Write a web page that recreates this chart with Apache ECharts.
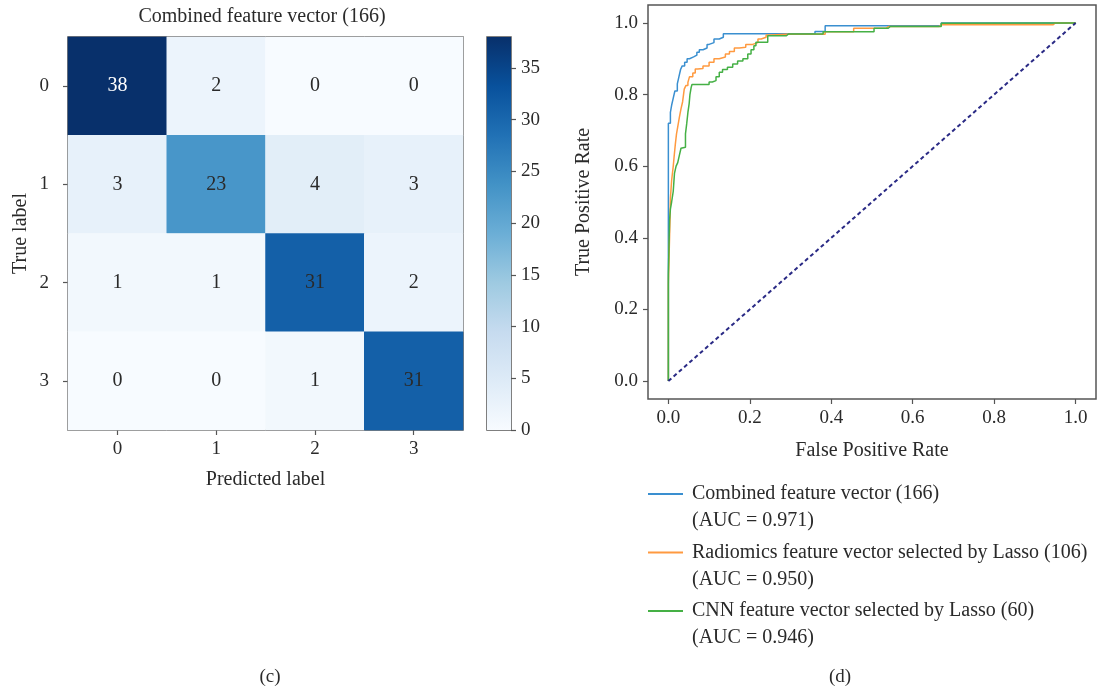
<!DOCTYPE html>
<html>
<head>
<meta charset="utf-8">
<script src="https://cdn.jsdelivr.net/npm/echarts@6/dist/echarts.min.js"></script>
<style>
html,body{margin:0;padding:0;background:#fff;}
#chart{width:1105px;height:686px;}
</style>
</head>
<body>
<div id="chart"></div>
<script>
// ---------- DATA ----------
const classLabels = ['0', '1', '2', '3'];
const confusion = [
  [38, 2, 0, 0],
  [3, 23, 4, 3],
  [1, 1, 31, 2],
  [0, 0, 1, 31]
];
const colorMax = 38;
const colorbarTicks = [0, 5, 10, 15, 20, 25, 30, 35];
const rocTicks = [0, 0.2, 0.4, 0.6, 0.8, 1.0];

const seriesNames = [
  'Combined feature vector (166)',
  'Radiomics feature vector selected by Lasso (106)',
  'CNN feature vector selected by Lasso (60)'
];
const aucValues = [0.971, 0.950, 0.946];

const rocCombined = [[0,0],[0,0.69],[0.005,0.72],[0.008,0.75],[0.012,0.77],[0.016,0.79],[0.022,0.81],[0.026,0.83],[0.03,0.85],[0.034,0.87],[0.04,0.88],[0.046,0.89],[0.052,0.9],[0.062,0.905],[0.07,0.91],[0.076,0.918],[0.085,0.925],[0.095,0.93],[0.1,0.94],[0.112,0.945],[0.125,0.955],[0.135,0.96],[0.15,0.97],[0.36,0.97],[0.37,0.976],[0.385,0.976],[0.39,0.992],[0.67,0.992],[0.675,1.0],[1,1]];
const rocRadiomics = [[0,0],[0,0.14],[0.004,0.27],[0.005,0.45],[0.008,0.51],[0.012,0.56],[0.014,0.6],[0.017,0.625],[0.02,0.66],[0.023,0.69],[0.027,0.71],[0.031,0.736],[0.035,0.76],[0.039,0.78],[0.043,0.815],[0.048,0.825],[0.052,0.834],[0.06,0.85],[0.066,0.86],[0.072,0.871],[0.085,0.873],[0.1,0.88],[0.112,0.89],[0.125,0.9],[0.14,0.905],[0.15,0.913],[0.162,0.92],[0.174,0.93],[0.19,0.932],[0.207,0.94],[0.22,0.945],[0.228,0.955],[0.24,0.96],[0.252,0.966],[0.29,0.968],[0.385,0.968],[0.39,0.975],[0.455,0.975],[0.46,0.985],[0.535,0.985],[0.54,0.99],[0.665,0.99],[0.67,0.995],[0.945,0.995],[0.95,1.0],[1,1]];
const rocCnn = [[0,0],[0,0.08],[0.003,0.3],[0.005,0.45],[0.008,0.48],[0.012,0.5],[0.015,0.53],[0.019,0.58],[0.023,0.6],[0.027,0.61],[0.031,0.63],[0.034,0.65],[0.042,0.653],[0.045,0.69],[0.048,0.718],[0.051,0.75],[0.053,0.774],[0.056,0.8],[0.058,0.82],[0.06,0.828],[0.1,0.828],[0.108,0.835],[0.117,0.839],[0.125,0.85],[0.133,0.862],[0.145,0.87],[0.158,0.876],[0.17,0.885],[0.183,0.894],[0.195,0.9],[0.203,0.913],[0.21,0.925],[0.215,0.936],[0.244,0.946],[0.256,0.964],[0.29,0.964],[0.295,0.969],[0.38,0.969],[0.385,0.975],[0.505,0.975],[0.51,0.985],[0.54,0.985],[0.545,0.99],[0.67,0.99],[0.675,0.999],[1,1]];
const chanceLine = [[0,0],[1,1]];

// ---------- STYLE ----------
const FONT = '"Liberation Serif", "DejaVu Serif", serif';
const TXT = '#2a2a2a';
const FRAME = '#555';
const blues = ['#f7fbff','#deebf7','#c6dbef','#9ecae1','#6baed6','#4292c6','#2171b5','#08519c','#08306b'];
const rocColors = ['#3a8fd0', '#ff9a40', '#45b045'];

const heatData = [];
confusion.forEach((row, r) => row.forEach((v, c) => heatData.push({
  value: [c, r, v],
  label: { color: v > 0.9 * colorMax ? '#ffffff' : TXT }
})));

const chart = echarts.init(document.getElementById('chart'));
const axisLabelStyle = { color: TXT, fontFamily: FONT, fontSize: 19 };
const nameStyle = { color: TXT, fontFamily: FONT, fontSize: 20 };
const tickStyle = { show: true, length: 5, inside: false, lineStyle: { color: FRAME, width: 1.2 } };

chart.setOption({
  backgroundColor: '#fff',
  animation: false,
  title: [
    { text: 'Combined feature vector (166)', left: 257, top: 2, textAlign: 'center',
      textStyle: { color: TXT, fontFamily: FONT, fontSize: 20, fontWeight: 'normal' } },
    { text: '(c)', left: 265, top: 663, textAlign: 'center',
      textStyle: { color: TXT, fontFamily: FONT, fontSize: 19, fontWeight: 'normal' } },
    { text: '(d)', left: 835, top: 663, textAlign: 'center',
      textStyle: { color: TXT, fontFamily: FONT, fontSize: 19, fontWeight: 'normal' } }
  ],
  grid: [
    { left: 68, top: 37, width: 395, height: 393, show: true, borderColor: FRAME, borderWidth: 1.5, containLabel: false },
    { left: 487, top: 37, width: 24, height: 393, show: true, borderColor: FRAME, borderWidth: 1.5, containLabel: false },
    { left: 648, top: 5, width: 448, height: 394, show: true, borderColor: FRAME, borderWidth: 1.5, containLabel: false }
  ],
  visualMap: {
    show: false, min: 0, max: colorMax, seriesIndex: 0, dimension: 2,
    inRange: { color: blues }
  },
  legend: {
    data: seriesNames,
    orient: 'vertical', left: 648, top: 483, padding: 0,
    icon: 'rect', itemWidth: 35, itemHeight: 2, itemGap: 36.5,
    textStyle: { color: TXT, fontFamily: FONT, fontSize: 20, lineHeight: 22, padding: [0, 0, 0, 4] }
  },
  graphic: aucValues.map((a, i) => ({
    type: 'text', left: 692, top: 511 + i * 58.5,
    style: { text: '(AUC = ' + a.toFixed(3) + ')', fill: TXT, font: '20px ' + FONT }
  })),
  xAxis: [
    { gridIndex: 0, type: 'category', data: classLabels, position: 'bottom',
      axisLine: { show: false, onZero: false }, axisTick: Object.assign({ alignWithLabel: true }, tickStyle),
      axisLabel: Object.assign({ margin: 10 }, axisLabelStyle), splitLine: { show: false },
      name: 'Predicted label', nameLocation: 'middle', nameGap: 40, nameTextStyle: nameStyle },
    { gridIndex: 1, type: 'category', data: ['c'], show: false },
    { gridIndex: 2, type: 'value', min: -0.05, max: 1.05, position: 'bottom',
      axisLine: { show: false, onZero: false }, splitLine: { show: false },
      axisTick: Object.assign({ customValues: rocTicks }, tickStyle),
      axisLabel: Object.assign({ margin: 10, customValues: rocTicks, formatter: v => v.toFixed(1) }, axisLabelStyle),
      name: 'False Positive Rate', nameLocation: 'middle', nameGap: 42, nameTextStyle: nameStyle }
  ],
  yAxis: [
    { gridIndex: 0, type: 'category', data: classLabels, inverse: true,
      axisLine: { show: false, onZero: false }, axisTick: Object.assign({ alignWithLabel: true }, tickStyle),
      axisLabel: Object.assign({ margin: 19 }, axisLabelStyle), splitLine: { show: false },
      name: 'True label', nameLocation: 'middle', nameGap: 37, nameTextStyle: nameStyle },
    { gridIndex: 1, type: 'value', min: 0, max: colorMax, position: 'right',
      axisLine: { show: false, onZero: false }, splitLine: { show: false },
      axisTick: Object.assign({ customValues: colorbarTicks }, tickStyle),
      axisLabel: Object.assign({ margin: 10, customValues: colorbarTicks }, axisLabelStyle) },
    { gridIndex: 2, type: 'value', min: -0.05, max: 1.05, position: 'left',
      axisLine: { show: false, onZero: false }, splitLine: { show: false },
      axisTick: Object.assign({ customValues: rocTicks }, tickStyle),
      axisLabel: Object.assign({ margin: 10, customValues: rocTicks, formatter: v => v.toFixed(1) }, axisLabelStyle),
      name: 'True Positive Rate', nameLocation: 'middle', nameGap: 54, nameTextStyle: nameStyle }
  ],
  series: [
    { type: 'heatmap', xAxisIndex: 0, yAxisIndex: 0, data: heatData,
      label: { show: true, fontFamily: FONT, fontSize: 20 },
      itemStyle: { borderWidth: 0 } },
    { type: 'bar', xAxisIndex: 1, yAxisIndex: 1, data: [colorMax], barWidth: '100%',
      itemStyle: { color: { type: 'linear', x: 0, y: 1, x2: 0, y2: 0,
        colorStops: blues.map((c, i) => ({ offset: i / (blues.length - 1), color: c })) } } },
    { type: 'line', name: seriesNames[0], xAxisIndex: 2, yAxisIndex: 2, data: rocCombined, step: 'start',
      showSymbol: false, color: rocColors[0], lineStyle: { width: 1.5, color: rocColors[0] } },
    { type: 'line', name: seriesNames[1], xAxisIndex: 2, yAxisIndex: 2, data: rocRadiomics, step: 'start',
      showSymbol: false, color: rocColors[1], lineStyle: { width: 1.5, color: rocColors[1] } },
    { type: 'line', name: seriesNames[2], xAxisIndex: 2, yAxisIndex: 2, data: rocCnn, step: 'start',
      showSymbol: false, color: rocColors[2], lineStyle: { width: 1.5, color: rocColors[2] } },
    { type: 'line', name: 'chance', xAxisIndex: 2, yAxisIndex: 2, data: chanceLine,
      showSymbol: false, lineStyle: { width: 2, color: '#2a2a85', type: [4, 3] } }
  ]
});
</script>
</body>
</html>
